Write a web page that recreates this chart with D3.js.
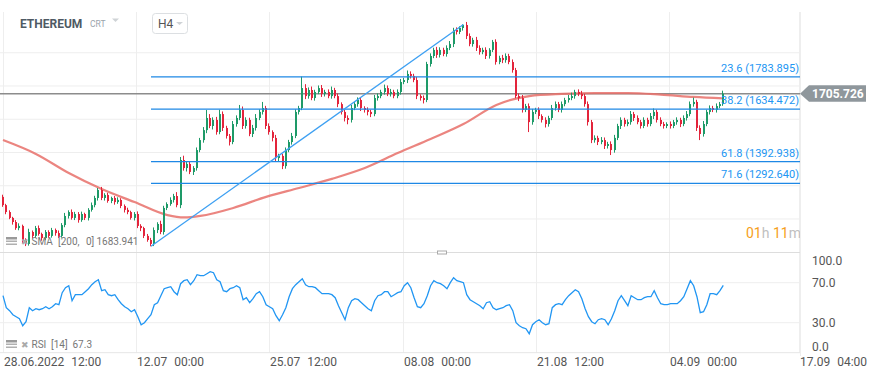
<!DOCTYPE html>
<html>
<head>
<meta charset="utf-8">
<script src="https://cdn.jsdelivr.net/npm/d3@7"></script>
<style>
  body { margin: 0; background: #fff; }
  svg { display: block; font-family: Roboto, "Noto Sans", sans-serif; }
</style>
</head>
<body>
<svg id="chart"></svg>
<script>
// ETHEREUM, H4 chart (drawn with 8h candles), 28.06.2022 12:00 onwards
const start = new Date(2022, 5, 28, 12, 0);
const stepHours = 8;
const firstOpen = 1230;

const closes = [
  1192, 1160, 1133, 1114, 1086, 1096, 1031, 1013, 1068, 1050,
  1086, 1059, 1040, 1068, 1050, 1077, 1063, 1050, 1100, 1142,
  1160, 1133, 1151, 1123, 1151, 1133, 1170, 1192, 1225, 1262,
  1225, 1239, 1211, 1225, 1206, 1216, 1188, 1170, 1160, 1133,
  1151, 1096, 1086, 1050, 1031, 1013, 1077, 1105, 1068, 1179,
  1197, 1216, 1234, 1192, 1400, 1363, 1382, 1345, 1363, 1446,
  1492, 1538, 1594, 1557, 1585, 1529, 1612, 1548, 1511, 1483,
  1566, 1594, 1631, 1557, 1585, 1520, 1548, 1594, 1622, 1640,
  1557, 1529, 1502, 1409, 1419, 1372, 1446, 1483, 1511, 1622,
  1640, 1732, 1695, 1723, 1686, 1714, 1732, 1705, 1714, 1695,
  1723, 1695, 1658, 1622, 1594, 1585, 1640, 1658, 1677, 1640,
  1631, 1622, 1612, 1686, 1695, 1714, 1732, 1705, 1714, 1695,
  1714, 1760, 1769, 1797, 1788, 1769, 1695, 1686, 1677, 1843,
  1880, 1908, 1885, 1908, 1889, 1917, 1935, 2000, 1991, 2009,
  2023, 1972, 1935, 1954, 1917, 1898, 1908, 1880, 1908, 1945,
  1852, 1871, 1861, 1880, 1852, 1815, 1695, 1686, 1631, 1649,
  1575, 1622, 1631, 1603, 1585, 1566, 1594, 1640, 1658, 1631,
  1658, 1677, 1686, 1695, 1714, 1705, 1695, 1658, 1575, 1492,
  1502, 1483, 1492, 1465, 1474, 1446, 1502, 1557, 1585, 1566,
  1575, 1612, 1594, 1575, 1557, 1585, 1566, 1603, 1622, 1585,
  1566, 1557, 1566, 1557, 1575, 1585, 1566, 1594, 1612, 1658,
  1668, 1548, 1520, 1566, 1622, 1640, 1631, 1649, 1658, 1706
];

// wick length above / below the body, in $
const wickHi = [
  10, 6, 8, 5, 9, 12, 6, 8, 15, 7,
  10, 12, 6, 9, 8, 10, 7, 12, 9, 14,
  8, 12, 10, 9, 11, 6, 8, 12, 10, 9,
  14, 8, 10, 6, 9, 12, 8, 7, 10, 6,
  9, 12, 8, 6, 9, 10, 12, 8, 15, 10,
  8, 12, 10, 18, 14, 20, 12, 10, 9, 12,
  10, 14, 37, 18, 12, 14, 20, 12, 10, 9,
  14, 12, 23, 16, 12, 10, 14, 18, 12, 28,
  10, 12, 8, 14, 10, 9, 12, 10, 14, 12,
  10, 53, 18, 12, 16, 10, 12, 14, 10, 12,
  16, 10, 12, 8, 10, 12, 14, 10, 12, 10,
  8, 12, 10, 14, 12, 10, 16, 12, 14, 10,
  12, 14, 10, 16, 12, 10, 14, 8, 12, 10,
  12, 10, 14, 12, 10, 12, 14, 10, 12, 8,
  3, 14, 12, 10, 14, 12, 10, 12, 8, 9,
  12, 10, 14, 12, 10, 12, 10, 12, 14, 10,
  12, 14, 10, 12, 8, 12, 10, 14, 12, 10,
  12, 10, 14, 16, 10, 12, 14, 10, 12, 10,
  12, 10, 14, 12, 10, 12, 14, 10, 12, 10,
  12, 14, 10, 12, 10, 12, 10, 14, 16, 10,
  12, 10, 8, 12, 10, 12, 10, 12, 14, 12,
  20, 10, 12, 14, 10, 12, 10, 12, 10, 14
];
const wickLo = [
  8, 10, 6, 12, 8, 10, 14, 10, 8, 12,
  10, 8, 12, 10, 9, 8, 12, 10, 8, 10,
  12, 8, 10, 12, 8, 10, 12, 8, 10, 12,
  10, 12, 8, 10, 12, 8, 10, 12, 10, 8,
  12, 10, 14, 10, 8, 11, 10, 14, 10, 12,
  10, 8, 12, 10, 14, 12, 16, 10, 14, 12,
  10, 12, 14, 10, 16, 12, 10, 14, 12, 16,
  10, 12, 10, 14, 12, 10, 14, 12, 10, 12,
  14, 12, 16, 18, 14, 14, 12, 10, 12, 10,
  12, 10, 14, 12, 10, 12, 10, 14, 12, 10,
  12, 10, 14, 12, 16, 20, 12, 10, 12, 14,
  12, 16, 14, 10, 12, 10, 12, 10, 12, 10,
  10, 12, 10, 14, 12, 10, 14, 12, 16, 10,
  12, 10, 14, 12, 10, 12, 10, 14, 12, 10,
  12, 14, 10, 12, 14, 12, 10, 14, 12, 10,
  12, 10, 14, 12, 10, 12, 10, 14, 12, 10,
  46, 12, 10, 14, 12, 16, 12, 10, 12, 10,
  12, 10, 12, 10, 12, 10, 14, 12, 16, 14,
  12, 14, 10, 14, 12, 23, 12, 10, 14, 12,
  10, 12, 14, 10, 12, 10, 12, 10, 14, 12,
  10, 12, 10, 12, 10, 12, 14, 10, 12, 10,
  12, 14, 28, 12, 10, 12, 10, 12, 10, 8
];

const rsi = [
  57, 45, 42, 38, 36, 34, 27, 31, 45, 42,
  44, 43, 44, 46, 44, 46, 49, 48, 60, 65,
  67, 52, 58, 58, 58, 61, 64, 68, 71, 73,
  62, 63, 58, 57, 58, 53, 49, 46, 44, 41,
  43, 36, 28, 30, 34, 38, 48, 50, 57, 64,
  65, 66, 61, 58, 69, 72, 73, 68, 72, 78,
  77, 77, 79, 81, 80, 73, 71, 62, 61, 64,
  65, 67, 65, 53, 55, 50, 54, 59, 61, 56,
  48, 46, 44, 37, 32, 38, 45, 56, 64, 68,
  71, 74, 68, 66, 66, 65, 62, 59, 59, 59,
  58, 55, 47, 40, 33, 45, 52, 54, 53, 50,
  47, 44, 42, 52, 57, 58, 61, 61, 56, 58,
  60, 61, 67, 70, 65, 55, 46, 45, 49, 57,
  67, 72, 70, 69, 67, 64, 70, 75, 72, 71,
  70, 58, 53, 51, 49, 47, 44, 50, 51, 45,
  43, 44, 45, 47, 48, 42, 30, 27, 25, 24,
  19, 28, 31, 33, 30, 28, 29, 45, 48, 49,
  48, 53, 57, 60, 63, 61, 54, 44, 36, 31,
  29, 33, 34, 33, 28, 34, 42, 52, 57, 52,
  47, 57, 55, 53, 53, 55, 56, 56, 62, 55,
  49, 48, 48, 49, 49, 49, 52, 56, 64, 72,
  67, 56, 40, 41, 48, 59, 59, 58, 62, 67.3
];

// SMA 200, read at these candle indexes
const smaIdx = [0, 10, 20, 30, 40, 50, 55, 60, 70, 80, 90, 100, 110, 120, 130, 140, 150, 160, 170, 180, 190, 200, 210, 219];
const smaVal = [1492, 1428, 1340, 1266, 1206, 1146, 1135, 1142, 1179, 1230, 1271, 1313, 1363, 1432, 1497, 1566, 1654, 1695, 1705, 1709, 1709, 1702, 1691, 1684];

const priceTicks = [974.567, 1127.954, 1281.340, 1434.727, 1588.114, 1741.501, 1894.887];
const rsiTicks = [0, 30, 70, 100];
const timeTicks = [
  new Date(2022, 5, 28, 12), new Date(2022, 6, 12, 0), new Date(2022, 6, 25, 12),
  new Date(2022, 7, 8, 0), new Date(2022, 7, 21, 12), new Date(2022, 8, 4, 0),
  new Date(2022, 8, 17, 4)
];

const fibLevels = [23.6, 38.2, 61.8, 71.6];
const fibPrices = [1783.895, 1634.472, 1392.938, 1292.640];
const swingLow = { i: 45, p: 1001.981 };
const swingHigh = { i: 140, p: 2025.429 };

const lastPrice = 1705.726;
const smaLast = 1683.941;
const rsiLast = 67.3;

const w = 872, h = 378;
const plotRight = 800;
const mainTop = 12, mainBottom = 252.5;

const svg = d3.select('#chart').attr('width', w).attr('height', h);

const dateAt = i => new Date(start.getTime() + i * stepHours * 3600e3);

const x = d3.scaleTime()
  .domain([timeTicks[0], timeTicks[5]])
  .range([3, 669]);

const y = d3.scaleLinear()
  .domain([974.567, 1894.887])
  .range([252.25, 52.75]);

const yR = d3.scaleLinear()
  .domain([0, 100])
  .range([352.7, 252.7]);

const candles = closes.map((c, i) => {
  const o = i === 0 ? firstOpen : closes[i - 1];
  return { t: dateAt(i), o, c, hi: Math.max(o, c) + wickHi[i], lo: Math.min(o, c) - wickLo[i] };
});

// grid
const grid = svg.append('g');
grid.selectAll('line.v')
  .data(timeTicks)
  .enter().append('line')
  .attr('x1', d => Math.round(x(d)) + 0.5).attr('x2', d => Math.round(x(d)) + 0.5)
  .attr('y1', mainTop).attr('y2', 352.7)
  .attr('stroke', '#eeeeee');
grid.selectAll('line.h')
  .data(priceTicks.slice(1))
  .enter().append('line')
  .attr('x1', 0).attr('x2', plotRight)
  .attr('y1', d => y(d)).attr('y2', d => y(d))
  .attr('stroke', '#eeeeee');
grid.selectAll('line.r')
  .data([30, 70])
  .enter().append('line')
  .attr('x1', 0).attr('x2', plotRight)
  .attr('y1', d => yR(d)).attr('y2', d => yR(d))
  .attr('stroke', '#eeeeee');
svg.append('line').attr('x1', 0).attr('x2', plotRight).attr('y1', mainBottom).attr('y2', mainBottom).attr('stroke', '#dddddd');
svg.append('line').attr('x1', 0).attr('x2', plotRight).attr('y1', yR(0)).attr('y2', yR(0)).attr('stroke', '#e6e6e6');

// header
svg.append('text').attr('x', 20).attr('y', 27.5)
  .attr('font-size', 12).attr('font-weight', 'bold').attr('fill', '#4f5a64')
  .text('ETHEREUM');
svg.append('text').attr('x', 90).attr('y', 27)
  .attr('font-size', 8.5).attr('fill', '#9aa3ab')
  .text('CRT');
svg.append('path').attr('d', 'M112,18.5 L119,18.5 L115.5,22 Z').attr('fill', '#cfd3d6');
svg.append('rect').attr('x', 152.5).attr('y', 13.5).attr('width', 35).attr('height', 20).attr('rx', 3)
  .attr('fill', '#fff').attr('stroke', '#dcdfe2');
svg.append('text').attr('x', 158).attr('y', 28).attr('font-size', 12).attr('fill', '#555').text('H4');
svg.append('path').attr('d', 'M176,22 L183,22 L179.5,25 Z').attr('fill', '#cfd3d6');

// main panel
svg.append('clipPath').attr('id', 'mainClip')
  .append('rect').attr('x', 0).attr('y', mainTop).attr('width', plotRight).attr('height', mainBottom - mainTop);
const main = svg.append('g').attr('clip-path', 'url(#mainClip)');

// indicator legends
const legend = (g, yy, parts) => {
  g.append('rect').attr('x', 6).attr('y', yy - 8).attr('width', 11).attr('height', 2.5).attr('fill', '#9a9a9a');
  g.append('rect').attr('x', 6).attr('y', yy - 4.5).attr('width', 11).attr('height', 1.5).attr('fill', '#b0b0b0');
  g.append('rect').attr('x', 6).attr('y', yy - 1.5).attr('width', 11).attr('height', 1.5).attr('fill', '#b0b0b0');
  g.append('text').attr('x', 20.5).attr('y', yy).attr('font-size', 9).attr('fill', '#aaa').text('✖');
  parts.forEach(p => g.append('text').attr('x', p[0]).attr('y', yy).attr('font-size', 10).attr('fill', '#777').text(p[1]));
};
legend(svg, 245, [[31.5, 'SMA'], [58, '[200,'], [86, '0]'], [96.5, smaLast.toFixed(3)]]);

// current price line
main.append('line')
  .attr('x1', 0).attr('x2', plotRight)
  .attr('y1', y(lastPrice)).attr('y2', y(lastPrice))
  .attr('stroke', '#8c8c8c').attr('stroke-width', 1.5);

// SMA 200
main.append('path')
  .datum(smaIdx.map((k, j) => [dateAt(k), smaVal[j]]))
  .attr('fill', 'none')
  .attr('stroke', '#e8706a').attr('stroke-opacity', 0.85).attr('stroke-width', 2.2)
  .attr('d', d3.line().x(d => x(d[0])).y(d => y(d[1])).curve(d3.curveMonotoneX));

// candles
const up = '#1e9a68', down = '#e3243b';
const cg = main.append('g');
cg.selectAll('line')
  .data(candles)
  .enter().append('line')
  .attr('x1', d => Math.round(x(d.t)) - 0.5).attr('x2', d => Math.round(x(d.t)) - 0.5)
  .attr('y1', d => y(d.hi)).attr('y2', d => y(d.lo))
  .attr('stroke', d => d.c >= d.o ? up : down).attr('stroke-width', 1);
cg.selectAll('rect')
  .data(candles)
  .enter().append('rect')
  .attr('x', d => Math.round(x(d.t)) - 1)
  .attr('y', d => y(Math.max(d.o, d.c)))
  .attr('width', 2)
  .attr('height', d => Math.max(1, Math.abs(y(d.o) - y(d.c))))
  .attr('fill', d => d.c >= d.o ? up : down);

// fibonacci retracement
const fibX0 = x(dateAt(swingLow.i));
main.selectAll('line.fib')
  .data(fibPrices)
  .enter().append('line')
  .attr('x1', fibX0).attr('x2', plotRight)
  .attr('y1', d => y(d)).attr('y2', d => y(d))
  .attr('stroke', '#1e88e5').attr('stroke-width', 1.3);
main.selectAll('text.fib')
  .data(fibPrices)
  .enter().append('text')
  .attr('x', plotRight - 1).attr('y', d => y(d) - 5)
  .attr('text-anchor', 'end').attr('font-size', 11).attr('fill', '#2196f3')
  .text((d, i) => `${fibLevels[i]} (${d.toFixed(3)})`);

// trend line
main.append('line')
  .attr('x1', x(dateAt(swingLow.i))).attr('y1', y(swingLow.p))
  .attr('x2', x(dateAt(swingHigh.i))).attr('y2', y(swingHigh.p))
  .attr('stroke', '#3ea0f2').attr('stroke-width', 1.3);

// countdown
const cd = svg.append('text').attr('x', 746).attr('y', 237.5).attr('font-size', 14);
cd.append('tspan').attr('fill', '#f6a01a').text('01');
cd.append('tspan').attr('fill', '#c0c0c0').text('h ');
cd.append('tspan').attr('fill', '#f6a01a').text('11');
cd.append('tspan').attr('fill', '#c0c0c0').text('m');

// right price axis
svg.append('clipPath').attr('id', 'axisClip')
  .append('rect').attr('x', plotRight).attr('y', 0).attr('width', 72).attr('height', mainBottom);
const yAxis = d3.axisRight(y).tickValues(priceTicks).tickSize(0).tickPadding(12).tickFormat(d3.format('.3f'));
svg.append('g')
  .attr('transform', `translate(${plotRight}, 0)`)
  .attr('clip-path', 'url(#axisClip)')
  .call(yAxis)
  .call(g => g.select('.domain').remove())
  .call(g => g.selectAll('text').attr('font-size', 12).attr('fill', '#555').attr('font-family', 'Roboto'));

// plot right edge
svg.append('line').attr('x1', plotRight + 0.5).attr('x2', plotRight + 0.5).attr('y1', mainTop).attr('y2', 356).attr('stroke', '#eeeeee');

// last price tag
const ly = y(lastPrice);
svg.append('path')
  .attr('d', `M${plotRight},${ly} L${plotRight + 9},${ly - 8.5} L866,${ly - 8.5} L866,${ly + 8} L${plotRight + 9},${ly + 8} Z`)
  .attr('fill', '#8f979c');
svg.append('text').attr('x', 812).attr('y', ly).attr('dy', '0.35em')
  .attr('font-size', 12).attr('font-weight', 'bold').attr('fill', '#fff')
  .text(lastPrice.toFixed(3));

// small resize handle between panels
svg.append('rect').attr('x', 437.5).attr('y', 251).attr('width', 9).attr('height', 3)
  .attr('fill', '#fff').attr('stroke', '#aaa').attr('stroke-width', 1);

// RSI panel
svg.append('path')
  .datum(rsi)
  .attr('fill', 'none')
  .attr('stroke', '#2196f3').attr('stroke-width', 1.3)
  .attr('d', d3.line().x((d, i) => x(dateAt(i))).y(d => yR(d)));

legend(svg, 348, [[31.5, 'RSI'], [51, '[14]'], [72.5, String(rsiLast)]]);

const rAxis = d3.axisRight(yR).tickValues(rsiTicks).tickSize(0).tickPadding(12).tickFormat(d3.format('.1f'));
svg.append('g')
  .attr('transform', `translate(${plotRight}, 0)`)
  .call(rAxis)
  .call(g => g.select('.domain').remove())
  .call(g => g.selectAll('text').attr('font-size', 12).attr('fill', '#555').attr('font-family', 'Roboto'))
  .call(g => g.selectAll('.tick').filter(d => d === 100).select('text').attr('dy', '1.0em'))
  .call(g => g.selectAll('.tick').filter(d => d === 0).select('text').attr('dy', '-0.15em'));

// time axis
const xl = svg.append('g');
const tl = xl.selectAll('text')
  .data(timeTicks)
  .enter().append('text')
  .attr('x', d => Math.round(x(d)) + 1)
  .attr('y', 366)
  .attr('font-size', 12).attr('fill', '#555');
tl.append('tspan').text((d, i) => i === 0 ? d3.timeFormat('%d.%m.%Y')(d) : d3.timeFormat('%d.%m')(d));
tl.append('tspan').attr('dx', 7).text(d => d3.timeFormat('%H:%M')(d));
</script>
</body>
</html>
